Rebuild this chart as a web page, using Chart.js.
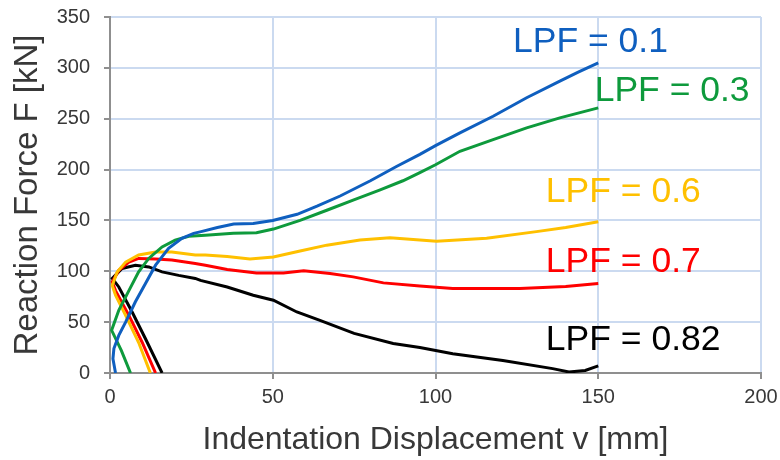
<!DOCTYPE html>
<html>
<head>
<meta charset="utf-8">
<script src="https://cdn.jsdelivr.net/npm/chart.js@4/dist/chart.umd.min.js"></script>
<style>
  body { margin: 0; background: #fff; }
  #wrap { width: 780px; height: 460px; }
</style>
</head>
<body>
<div id="wrap"><canvas id="forceChart" width="780" height="460"></canvas></div>
<script>
// Series values (x = displacement mm, y = force kN)
const seriesNames = ['LPF = 0.1', 'LPF = 0.3', 'LPF = 0.6', 'LPF = 0.7', 'LPF = 0.82'];

const lpf01X = [1.7, 0.9, 1.2, 2.7, 4.8, 7.8, 10.9, 14, 18, 22.1, 25.7, 28, 33, 38, 44, 50, 57.5, 63.6, 70.7, 80, 88, 95.2, 100, 107.5, 117.7, 128, 138.2, 144, 150];
const lpf01Y = [0, 14, 24, 37, 50, 70, 88, 106, 122.5, 132.4, 137.3, 139, 143, 146.5, 147, 150, 156, 164, 174, 189, 203, 215, 223.5, 236, 252.4, 270.6, 287, 296, 305];

const lpf03X = [6.3, 3.5, 0.5, 2.7, 5.8, 8.8, 11.9, 16, 20, 24.2, 29.3, 37.9, 45, 50.2, 58.4, 66.6, 74.7, 83, 90, 95.2, 100, 107.5, 117.7, 128, 138.2, 150];
const lpf03Y = [0, 22, 42, 61.6, 81, 99.4, 112.6, 124, 130.7, 134.5, 135.5, 137.5, 138, 141.5, 150, 160, 170, 180, 189, 197, 204.7, 218, 229.4, 241, 250.8, 260.7];

const lpf06X = [12.4, 8.8, 4.8, 1.7, 0.7, 2.2, 4.8, 8.8, 14, 19, 26.2, 29.3, 36, 43, 50.2, 58.4, 66.6, 76.8, 86, 95.2, 100.3, 115.7, 131, 140, 150];
const lpf06Y = [0, 30, 56.7, 76.4, 86, 99.4, 109, 116, 119, 119, 116, 116, 114.5, 112, 114, 120, 125.7, 130.7, 133, 130.7, 129.5, 132.4, 139, 143, 148.8];

const lpf07X = [14, 9.9, 5.8, 1.7, 0.7, 2.7, 5.8, 8.8, 14, 19, 26.2, 29.3, 36, 45, 53.3, 59.5, 67.6, 74.7, 84, 95.2, 105.3, 125.9, 140, 150];
const lpf07Y = [0, 30, 56.7, 81, 89.5, 101, 109, 112.6, 112, 111, 107.7, 106, 101.8, 98.4, 98.4, 100.4, 97.8, 94.5, 88.6, 85.5, 83, 83, 85, 88];

const lpf082X = [16, 10.9, 6.8, 2.7, 0.7, 3.7, 7.8, 11.9, 16, 21.1, 26.2, 27.8, 36, 44, 50.2, 57.4, 64.5, 75, 87, 95.2, 105.3, 120.7, 136, 141, 146, 150];
const lpf082Y = [0, 33.7, 60, 84.6, 93, 102.8, 106, 104.3, 99.4, 96, 93, 91, 84.6, 76.4, 71.5, 60, 51.7, 39, 29, 25, 19, 12.2, 4.3, 1, 2.5, 7];

const xTicks = [0, 50, 100, 150, 200];
const yTicks = [0, 50, 100, 150, 200, 250, 300, 350];

const colors = ['#0f5fbf', '#0e9a3c', '#ffc000', '#ff0000', '#000000'];

function toPoints(xs, ys) {
  return xs.map((x, i) => ({ x: x, y: ys[i] }));
}

const allX = [lpf01X, lpf03X, lpf06X, lpf07X, lpf082X];
const allY = [lpf01Y, lpf03Y, lpf06Y, lpf07Y, lpf082Y];

const datasets = seriesNames.map((name, i) => ({
  label: name,
  data: toPoints(allX[i], allY[i]),
  showLine: true,
  borderColor: colors[i],
  borderWidth: 3,
  pointRadius: 0,
  tension: 0,
  fill: false
}));

// Text labels next to each curve, placed in data coordinates
const curveLabels = {
  id: 'curveLabels',
  afterDatasetsDraw(chart) {
    const { ctx, scales: { x, y } } = chart;
    const spots = [[123.8, 315.3], [148.9, 267], [133.9, 168.5], [133.9, 99], [133.9, 23]];
    ctx.save();
    ctx.font = '35.5px "Liberation Sans", Arial, sans-serif';
    ctx.textAlign = 'left';
    ctx.textBaseline = 'alphabetic';
    seriesNames.forEach((name, i) => {
      ctx.fillStyle = colors[i];
      ctx.fillText(name, x.getPixelForValue(spots[i][0]), y.getPixelForValue(spots[i][1]));
    });
    ctx.restore();
  }
};

const fontFam = '"Liberation Sans", Arial, sans-serif';

const ctx = document.getElementById('forceChart').getContext('2d');
const chart = new Chart(ctx, {
  type: 'scatter',
  data: { datasets: datasets },
  options: {
    responsive: false,
    animation: false,
    layout: { padding: { top: 17, right: 19, left: 0, bottom: 0 } },
    plugins: {
      legend: { display: false },
      tooltip: { enabled: false }
    },
    scales: {
      x: {
        type: 'linear',
        min: 0,
        max: 200,
        afterBuildTicks: s => { s.ticks = xTicks.map(v => ({ value: v })); },
        afterFit: s => { s.height = 87; s.paddingLeft = 0; s.paddingRight = 0; },
        grid: { color: '#cbdaf0', lineWidth: 2, tickColor: '#8f8f8f', tickWidth: 2, tickLength: 6 },
        border: { color: '#8f8f8f', width: 2 },
        ticks: { color: '#383838', font: { family: fontFam, size: 20 }, padding: 6, maxRotation: 0 },
        title: {
          display: true,
          text: 'Indentation Displacement v [mm]',
          color: '#383838',
          font: { family: fontFam, size: 32 },
          padding: { top: 0, bottom: 1 }
        }
      },
      y: {
        type: 'linear',
        min: 0,
        max: 350,
        afterBuildTicks: s => { s.ticks = yTicks.map(v => ({ value: v })); },
        afterFit: s => { s.width = 110; s.paddingTop = 0; s.paddingBottom = 0; },
        grid: { color: '#cbdaf0', lineWidth: 2, tickColor: '#8f8f8f', tickWidth: 2, tickLength: 6 },
        border: { color: '#8f8f8f', width: 2 },
        ticks: { color: '#383838', font: { family: fontFam, size: 20 }, padding: 14 },
        title: {
          display: true,
          text: 'Reaction Force F [kN]',
          color: '#383838',
          font: { family: fontFam, size: 33 },
          padding: { top: 8, bottom: 0 }
        }
      }
    }
  },
  plugins: [curveLabels]
});
</script>
</body>
</html>
